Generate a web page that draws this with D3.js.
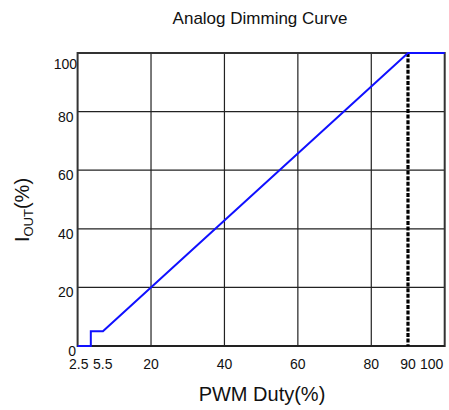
<!DOCTYPE html>
<html><head><meta charset="utf-8">
<script src="https://cdn.jsdelivr.net/npm/d3@7"></script>
<style>body{margin:0;background:#fff;} text{font-family:"Liberation Sans",Arial,sans-serif;fill:#111;}</style>
</head><body>
<svg id="c" width="449" height="410"></svg>
<script>
const curveX = [0, 3.6, 3.6, 6.9, 90, 100];
const curveY = [0, 0, 5, 5, 100, 100];
const xTicks = [2.5, 5.5, 20, 40, 60, 80, 90, 100];
const yTicks = [0, 20, 40, 60, 80, 100];
const xGrid = [20, 40, 60, 80];
const yGrid = [20, 40, 60, 80];
const dutyLimit = 90;

const svg = d3.select("#c");
const L = 77.6, R = 444.7, T = 53, B = 346;
const x = d3.scaleLinear().domain([0, 100]).range([L, R]);
const y = d3.scaleLinear().domain([0, 100]).range([B, T]);

// grid
svg.append("g").selectAll("line").data(xGrid).join("line")
  .attr("x1", d => x(d)).attr("x2", d => x(d)).attr("y1", T).attr("y2", B)
  .attr("stroke", "#222").attr("stroke-width", 1.2);
svg.append("g").selectAll("line").data(yGrid).join("line")
  .attr("y1", d => y(d)).attr("y2", d => y(d)).attr("x1", L).attr("x2", R)
  .attr("stroke", "#222").attr("stroke-width", 1.2);

// frame
svg.append("rect").attr("x", L).attr("y", T).attr("width", R - L).attr("height", B - T)
  .attr("fill", "none").attr("stroke", "#333").attr("stroke-width", 2);
svg.append("line").attr("x1", L).attr("x2", R).attr("y1", B).attr("y2", B)
  .attr("stroke", "#222").attr("stroke-width", 2.2);

// dotted limit line
svg.append("line").attr("x1", x(dutyLimit)).attr("x2", x(dutyLimit)).attr("y1", T).attr("y2", B)
  .attr("stroke", "#000").attr("stroke-width", 3.2).attr("stroke-dasharray", "4,1.6");

// curve
const pts = curveX.map((v, i) => [v, curveY[i]]);
svg.append("path").datum(pts)
  .attr("d", d3.line().x(d => x(d[0])).y(d => y(d[1])))
  .attr("fill", "none").attr("stroke", "#1010ff").attr("stroke-width", 2);

// x tick labels
const xdx = {2.5: -8, 5.5: 5, 100: -13};
svg.append("g").selectAll("text").data(xTicks).join("text")
  .attr("x", d => x(d) + (xdx[d] || 0)).attr("y", 369)
  .attr("text-anchor", "middle").attr("font-size", 14).text(d => d);

// y tick labels
svg.append("g").selectAll("text").data(yTicks).join("text")
  .attr("x", d => d === 100 ? 77 : (d === 0 ? 76 : 73.5))
  .attr("y", d => y(d) + (d === 100 ? 16 : 10))
  .attr("text-anchor", "end").attr("font-size", 14).text(d => d);

// titles
svg.append("text").attr("x", 260).attr("y", 24).attr("text-anchor", "middle")
  .attr("font-size", 17).text("Analog Dimming Curve");
svg.append("text").attr("x", 262).attr("y", 401).attr("text-anchor", "middle")
  .attr("font-size", 20).text("PWM Duty(%)");
const yt = svg.append("text").attr("transform", "translate(28.5,210) rotate(-90)")
  .attr("text-anchor", "middle").attr("font-size", 20);
yt.append("tspan").text("I");
yt.append("tspan").attr("font-size", 13).attr("dy", 4).text("OUT");
yt.append("tspan").attr("dy", -4).text("(%)");
</script>
</body></html>
